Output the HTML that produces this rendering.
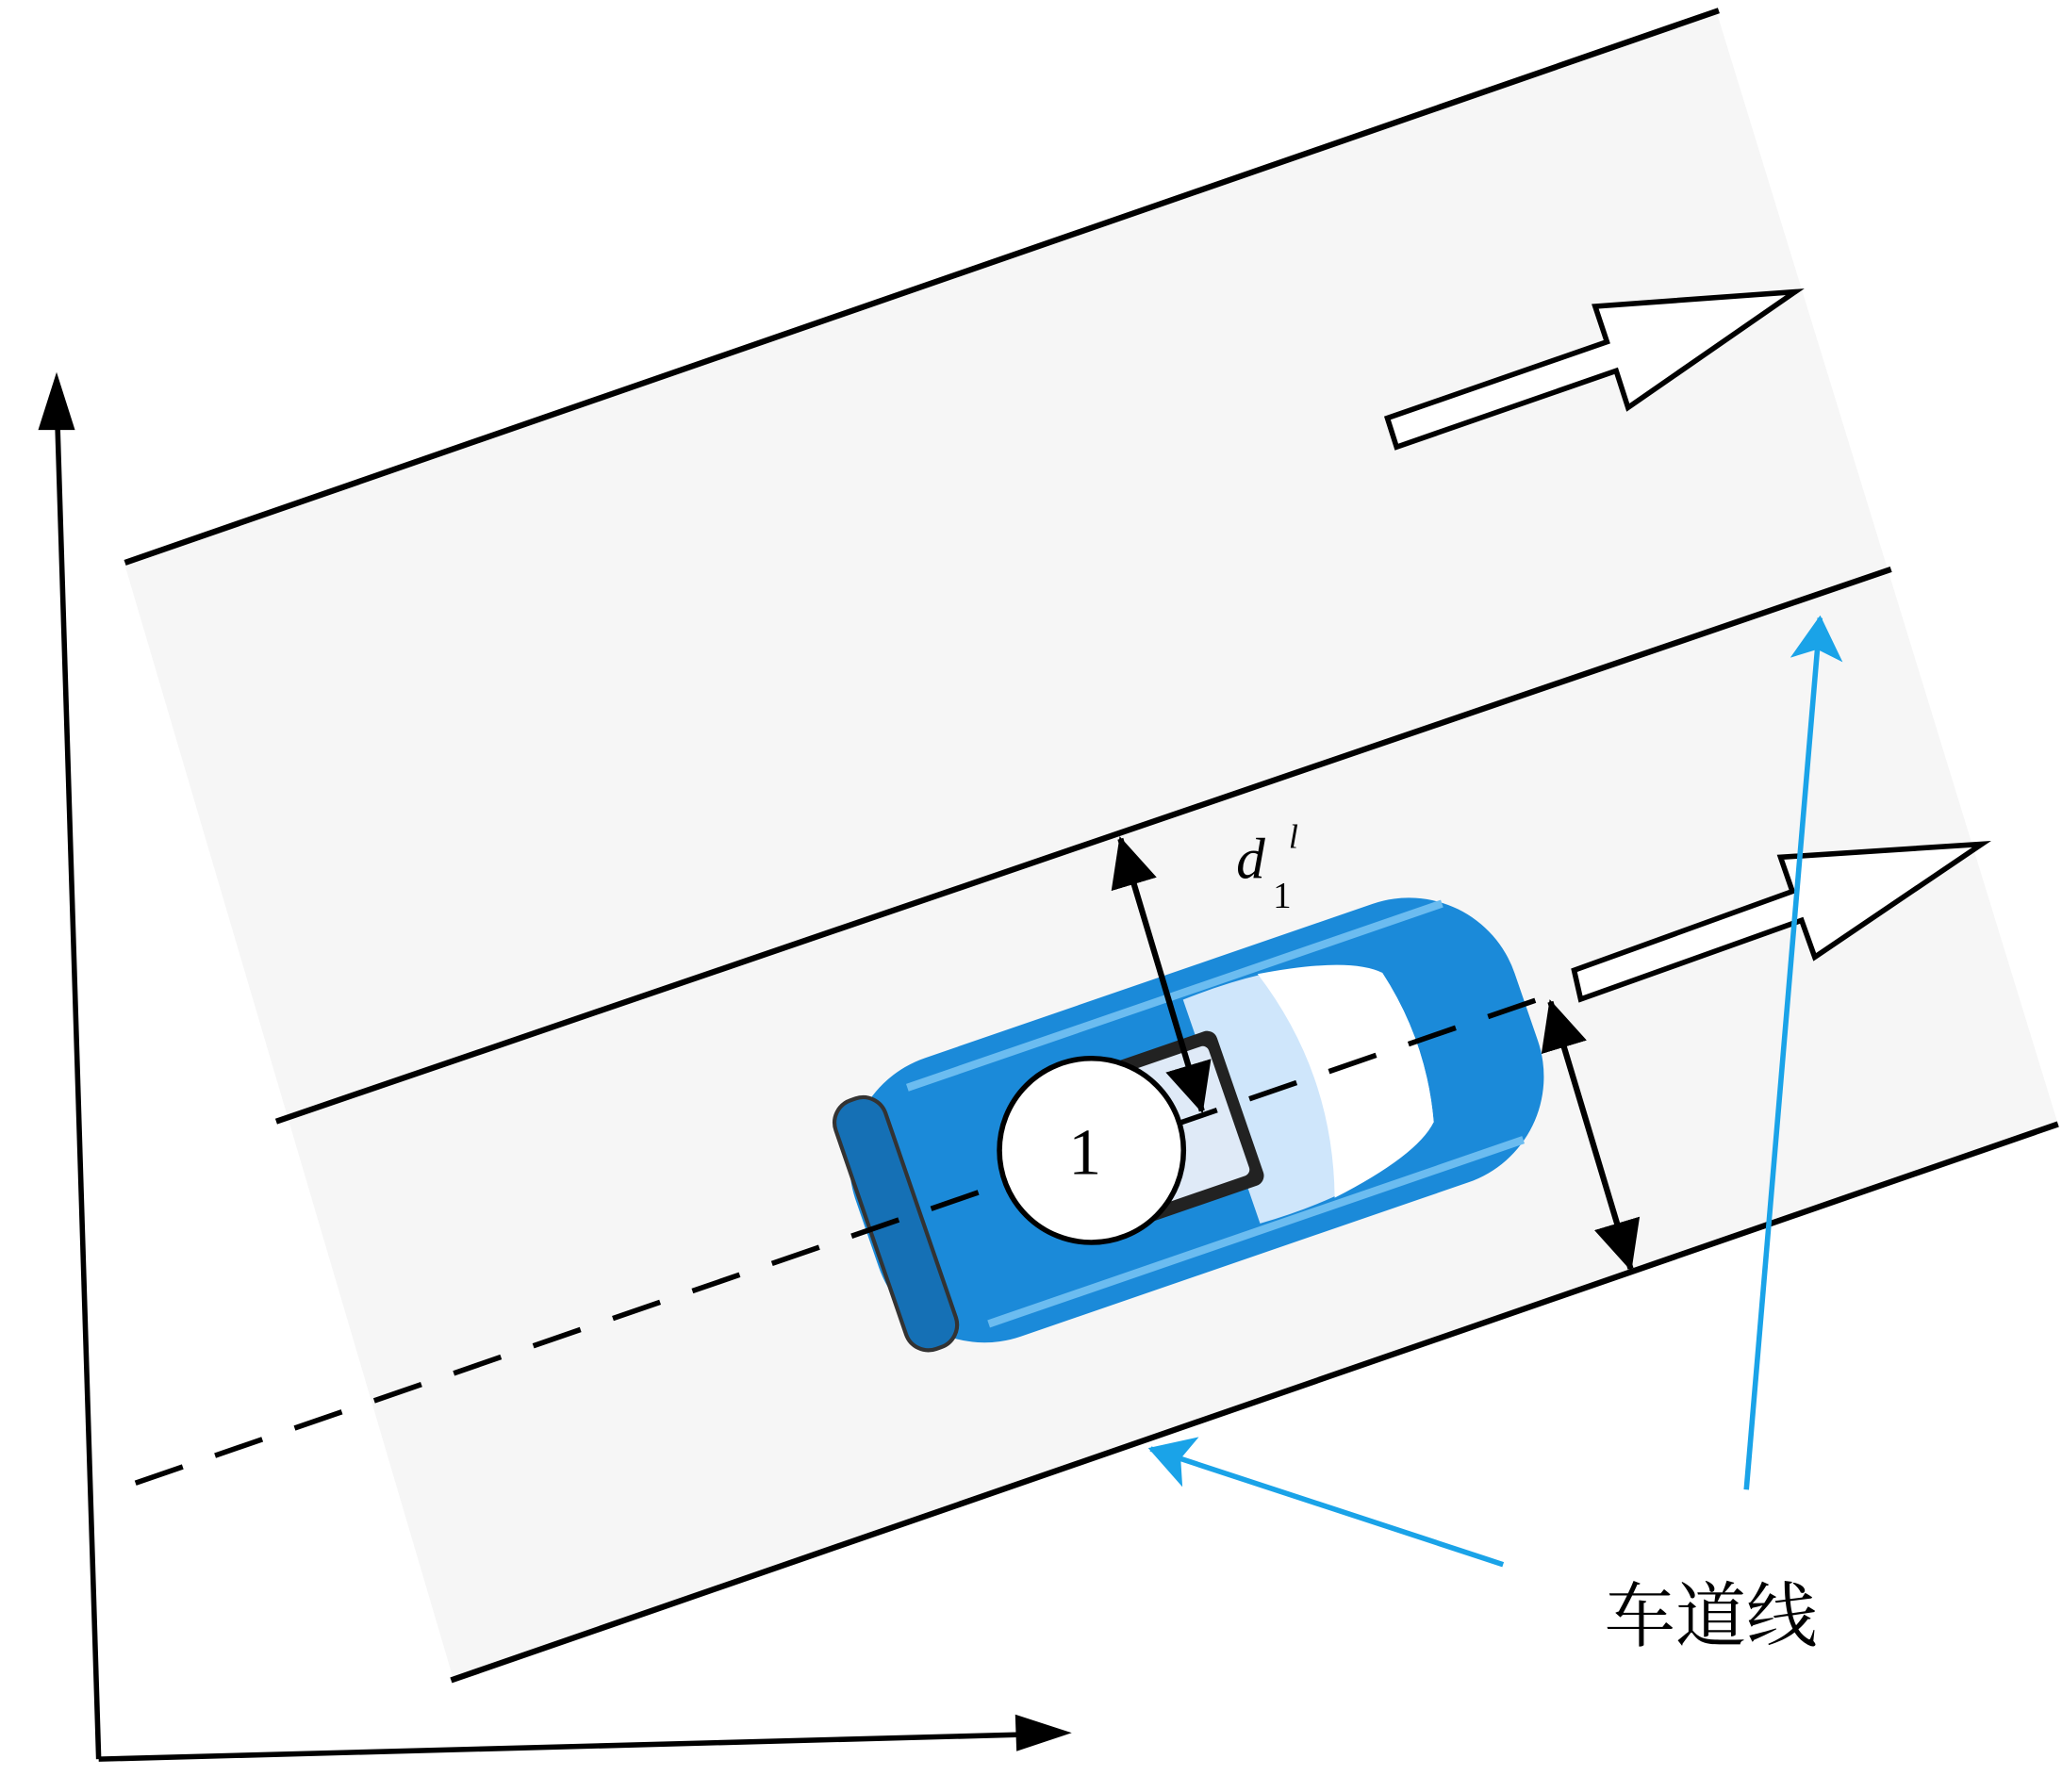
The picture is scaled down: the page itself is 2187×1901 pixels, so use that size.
<!DOCTYPE html>
<html><head><meta charset="utf-8"><style>html,body{margin:0;padding:0;background:#fff}svg{display:block}</style></head>
<body>
<svg width="2187" height="1901" viewBox="0 0 1568 1363" xmlns="http://www.w3.org/2000/svg">
<defs>
<marker id="bk" markerWidth="40" markerHeight="40" refX="36" refY="20" orient="auto-start-reverse" markerUnits="userSpaceOnUse"><path d="M0,2 L38,20 L0,38 Z" fill="#000"/></marker>
<marker id="bl" markerWidth="34" markerHeight="40" refX="32" refY="20" orient="auto" markerUnits="userSpaceOnUse"><path d="M0,0 L34,20 L0,40 L8,20 Z" fill="#1aa3e8"/></marker>
</defs>
<rect width="1568" height="1363" fill="#fff"/>
<polygon points="95,430 1305,8 1565,855 345,1278" fill="#f6f6f6"/>
<g stroke="#000" stroke-width="4.5" fill="none">
<line x1="95" y1="428" x2="1307" y2="8"/>
<line x1="210" y1="853" x2="1438" y2="433"/>
<line x1="343" y1="1278" x2="1565" y2="855"/>
</g>
<line x1="75" y1="1338" x2="43" y2="300" stroke="#000" stroke-width="4"/>
<path d="M43,283 L29,327 L57,327 Z" fill="#000"/>
<line x1="75" y1="1338" x2="790" y2="1319" stroke="#000" stroke-width="4"/>
<path d="M815,1318 L772,1304 L773,1332 Z" fill="#000"/>
<polygon points="1062,340 1055,318 1222,260 1213,233 1365,222 1238,310 1229,282" fill="#fff" stroke="#000" stroke-width="4"/>
<polygon points="1202,760 1197,738 1363,678 1354,652 1507,642 1380,728 1370,700" fill="#fff" stroke="#000" stroke-width="4"/>
<g transform="translate(910,852) rotate(-19)">
<rect x="-265" y="-112" width="530" height="224" rx="85" fill="#1b8ad9"/>
<rect x="-262" y="-100" width="40" height="200" rx="18" fill="#1570b5" stroke="#333" stroke-width="3"/>
<path d="M-200,-95 L230,-95" stroke="#6bbcf0" stroke-width="6"/>
<path d="M-200,95 L230,95" stroke="#6bbcf0" stroke-width="6"/>
<path d="M20,-90 Q120,-95 170,-60 Q185,0 170,60 Q120,95 20,90 Z" fill="#cfe6fb"/>
<path d="M80,-90 Q150,-80 170,-60 Q185,0 170,60 Q150,80 80,90 Q110,0 80,-90 Z" fill="#fff"/>
<rect x="-75" y="-62" width="110" height="124" rx="8" fill="#222"/>
<rect x="-66" y="-52" width="92" height="104" rx="5" fill="#dfeaf7"/>
</g>
<line x1="103" y1="1128" x2="1170" y2="760" stroke="#000" stroke-width="4" stroke-dasharray="38,26"/>
<circle cx="830" cy="875" r="70" fill="#fff" stroke="#000" stroke-width="4"/>
<text x="825" y="893" font-family="Liberation Serif, serif" font-size="50" text-anchor="middle">1</text>
<line x1="852" y1="638" x2="914" y2="845" stroke="#000" stroke-width="4.5" marker-start="url(#bk)" marker-end="url(#bk)"/>
<line x1="1179" y1="762" x2="1240" y2="965" stroke="#000" stroke-width="4.5" marker-start="url(#bk)" marker-end="url(#bk)"/>
<text x="940" y="668" font-family="Liberation Serif, serif" font-style="italic" font-size="44">d</text>
<text x="968" y="690" font-family="Liberation Serif, serif" font-size="28">1</text>
<text x="980" y="645" font-family="Liberation Serif, serif" font-style="italic" font-size="26">l</text>
<line x1="1328" y1="1133" x2="1384" y2="470" stroke="#1aa3e8" stroke-width="4" marker-end="url(#bl)"/>
<line x1="1143" y1="1190" x2="875" y2="1102" stroke="#1aa3e8" stroke-width="4" marker-end="url(#bl)"/>
<text x="1220" y="1248" font-family="Liberation Serif, 'Noto Serif CJK SC', serif" font-size="54">车道线</text>
</svg>
</body></html>
